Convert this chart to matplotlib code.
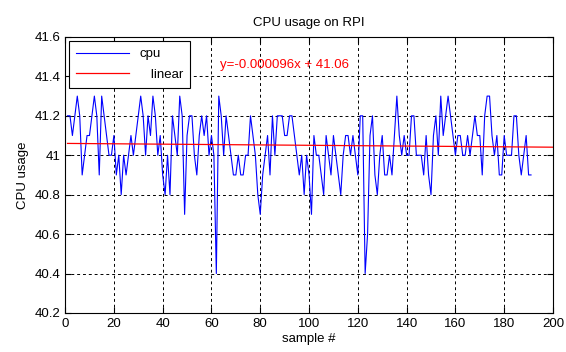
import numpy as np
import matplotlib
matplotlib.use('Agg')
import matplotlib.pyplot as plt

plt.rcParams['font.family'] = ['Liberation Sans', 'DejaVu Sans']

# cpu usage samples (sample 1..191)
cpu = [41.2, 41.2, 41.1, 41.2, 41.3, 41.2, 40.9, 41.0, 41.1, 41.1,
       41.2, 41.3, 41.2, 40.9, 41.3, 41.2, 41.1, 41.0, 41.0, 41.1,
       40.9, 41.0, 40.8, 41.0, 40.9, 41.0, 41.1, 41.0, 41.1, 41.2,
       41.3, 41.2, 41.0, 41.2, 41.1, 41.3, 41.2, 41.0, 41.1, 40.9,
       40.8, 41.0, 40.8, 41.2, 41.1, 41.0, 41.3, 41.2, 40.7, 41.1,
       41.2, 41.2, 41.0, 40.9, 41.1, 41.2, 41.1, 41.2, 41.0, 41.1,
       41.0, 40.4, 41.3, 41.2, 41.0, 41.2, 41.1, 41.0, 40.9, 40.9,
       41.0, 40.9, 40.9, 41.0, 41.0, 41.2, 41.1, 41.0, 40.8, 40.7,
       40.9, 41.0, 41.1, 40.9, 41.2, 41.0, 41.2, 41.2, 41.2, 41.1,
       41.1, 41.2, 41.2, 41.1, 41.0, 40.9, 41.0, 40.8, 41.0, 40.9,
       40.7, 41.1, 41.0, 41.0, 40.9, 40.8, 41.1, 41.0, 40.9, 41.1,
       41.0, 40.9, 40.8, 41.0, 41.1, 41.1, 41.0, 41.1, 41.0, 40.9,
       41.2, 41.2, 40.4, 40.6, 41.1, 41.2, 40.9, 40.8, 41.0, 41.1,
       40.9, 40.9, 41.0, 40.9, 41.1, 41.3, 41.1, 41.0, 41.1, 41.0,
       41.0, 41.2, 41.2, 41.0, 41.0, 41.0, 40.9, 41.1, 40.9, 40.8,
       41.1, 41.2, 41.0, 41.3, 41.1, 41.2, 41.3, 41.2, 41.1, 41.0,
       41.1, 41.1, 41.0, 41.0, 41.1, 41.0, 41.1, 41.2, 41.1, 41.1,
       40.9, 41.2, 41.3, 41.3, 41.1, 41.0, 41.1, 40.9, 40.9, 41.1,
       41.0, 41.0, 41.0, 41.2, 41.2, 41.0, 40.9, 41.0, 41.1, 40.9,
       40.9]
samples = np.arange(1, len(cpu) + 1)

# linear fit shown on the chart
slope = -0.000096
intercept = 41.06
fit_label = 'y=-0.000096x + 41.06'
fit_x = np.array([1, 200])

xticks = [0, 20, 40, 60, 80, 100, 120, 140, 160, 180, 200]
yticks = [40.2, 40.4, 40.6, 40.8, 41, 41.2, 41.4, 41.6]

fig = plt.figure(figsize=(5.66, 3.52), dpi=100)
ax = fig.add_axes([0.115, 0.111, 0.862, 0.784])

ax.plot(samples, cpu, color=(0, 0, 1), lw=0.8, label='cpu')
ax.plot(fit_x, slope * fit_x + intercept, color=(1, 0, 0), lw=0.9,
        label='   linear')

ax.text(63.5, 41.46, fit_label, color=(1, 0, 0), fontsize=9.5, va='center')

ax.set_xlim(0, 200)
ax.set_ylim(40.2, 41.6)
ax.set_xticks(xticks)
ax.set_yticks(yticks)
ax.set_yticklabels(['40.2', '40.4', '40.6', '40.8', '41', '41.2', '41.4', '41.6'])
ax.tick_params(direction='in', labelsize=9.5, length=4, top=True, right=True)
ax.grid(True, color='black', linestyle=(0, (3, 3)), lw=0.7)

ax.set_title('CPU usage on RPI', fontsize=9.5, pad=8)
ax.set_xlabel('sample #', fontsize=9.5, labelpad=2)
ax.set_ylabel('CPU usage', fontsize=9.5, labelpad=4)

leg = ax.legend(loc='upper left', fontsize=9.5, fancybox=False, framealpha=1,
                edgecolor='black', borderaxespad=0.3, handlelength=4.0,
                borderpad=0.55, labelspacing=0.6)
leg.get_frame().set_linewidth(0.8)

fig.savefig('out.png', dpi=100)
